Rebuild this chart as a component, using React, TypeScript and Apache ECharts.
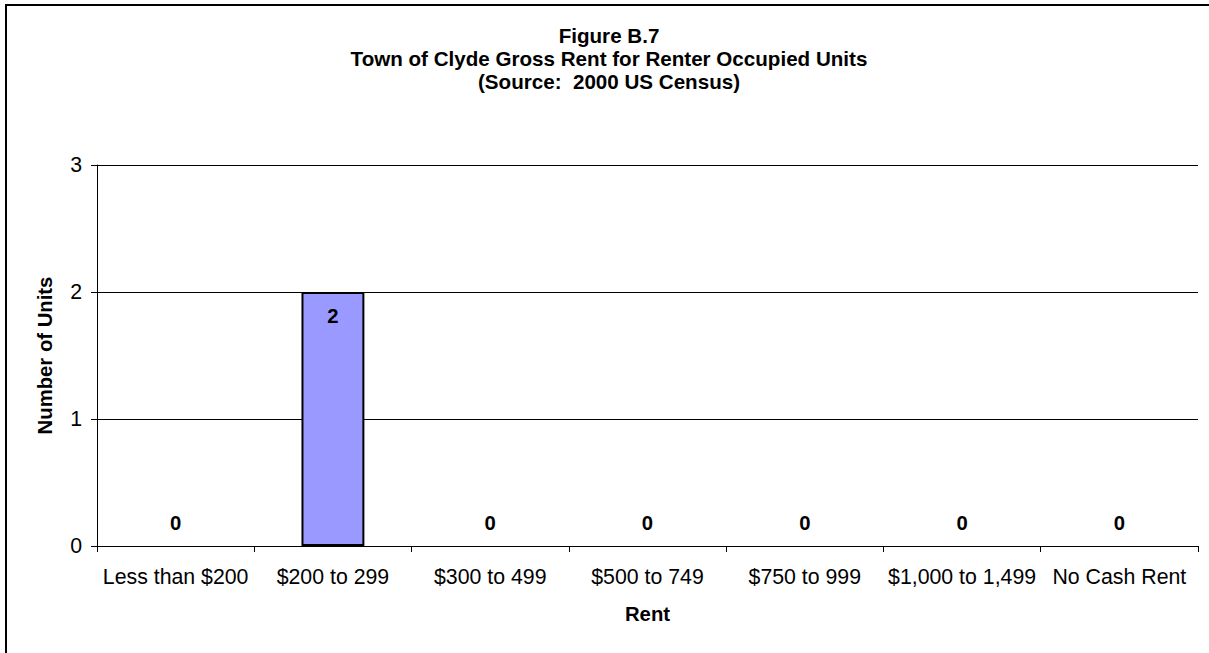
import React, { useEffect, useRef } from "react";
import * as echarts from "echarts";

const categories = [
  "Less than $200",
  "$200 to 299",
  "$300 to 499",
  "$500 to 749",
  "$750 to 999",
  "$1,000 to 1,499",
  "No Cash Rent",
];
const units = [0, 2, 0, 0, 0, 0, 0];
const yTicks = { min: 0, max: 3, interval: 1 };
const titleLines = [
  "Figure B.7",
  "Town of Clyde Gross Rent for Renter Occupied Units",
  "(Source:  2000 US Census)",
];

const FONT = "Arial, 'Liberation Sans', sans-serif";
const FS = 21.3;

export default function App() {
  const ref = useRef<HTMLDivElement>(null);
  useEffect(() => {
    if (!ref.current) return;
    const chart = echarts.init(ref.current, undefined, { renderer: "svg" });
    chart.setOption({
      animation: false,
      backgroundColor: "#ffffff",
      textStyle: { fontFamily: FONT },
      title: {
        text: titleLines.join("\n"),
        left: 604,
        textAlign: "center",
        top: 19,
        textStyle: {
          fontFamily: FONT,
          fontSize: 20.6,
          fontWeight: "bold",
          color: "#000",
          lineHeight: 23,
        },
      },
      graphic: [
        {
          type: "polyline",
          shape: { points: [[6, 700], [6, 5], [1300, 5]] },
          style: { stroke: "#000", lineWidth: 2, fill: "none" },
          silent: true,
        },
      ],
      grid: { left: 97, right: 11, top: 165, bottom: 107, containLabel: false },
      xAxis: {
        type: "category",
        data: categories,
        name: "Rent",
        nameLocation: "middle",
        nameGap: 58,
        nameTextStyle: { fontFamily: FONT, fontSize: 20.3, fontWeight: "bold", color: "#000" },
        axisLine: { lineStyle: { color: "#000", width: 1 } },
        axisTick: { show: true, length: 6, lineStyle: { color: "#000" } },
        axisLabel: { fontFamily: FONT, fontSize: FS, color: "#000", margin: 20, interval: 0 },
      },
      yAxis: {
        type: "value",
        min: yTicks.min,
        max: yTicks.max,
        interval: yTicks.interval,
        name: "Number of Units",
        nameLocation: "middle",
        nameGap: 42,
        nameRotate: 90,
        nameTextStyle: { fontFamily: FONT, fontSize: 20.3, fontWeight: "bold", color: "#000" },
        axisLine: { show: true, lineStyle: { color: "#000", width: 1 } },
        axisTick: { show: true, length: 6, lineStyle: { color: "#000" } },
        axisLabel: { fontFamily: FONT, fontSize: FS, color: "#000", margin: 15 },
        splitLine: { show: true, lineStyle: { color: "#000", width: 1 } },
      },
      series: [
        {
          type: "bar",
          data: units.map((v) => ({
            value: v,
            itemStyle: v > 0 ? undefined : { borderWidth: 0 },
            label: {
              show: true,
              position: v > 0 ? "insideTop" : "top",
              distance: v > 0 ? 14 : 13,
            },
          })),
          barWidth: "40%",
          itemStyle: { color: "#9999FF", borderColor: "#000", borderWidth: 2 },
          label: {
            show: true,
            fontFamily: FONT,
            fontSize: 20.3,
            fontWeight: "bold",
            color: "#000",
          },
        },
      ],
    });
    return () => chart.dispose();
  }, []);
  return (
    <div
      ref={ref}
      style={{ position: "fixed", left: 0, top: 0, width: 1209, height: 653, background: "#fff" }}
    />
  );
}
